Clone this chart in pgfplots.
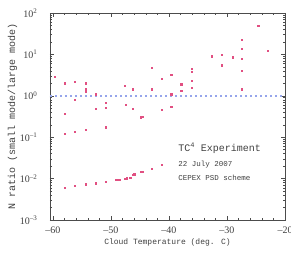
\documentclass[border=0pt]{standalone}
\usepackage{pgfplots}
\pgfplotsset{compat=1.18}
\usepackage{fontspec}
\setmainfont{Liberation Mono}
\newfontfamily\tickfont{Liberation Serif}
\definecolor{pts}{RGB}{225,80,130}
\definecolor{refl}{RGB}{150,165,235}
\begin{document}
\begin{tikzpicture}
\begin{axis}[
  scale only axis,
  width=235pt, height=207pt,
  xmin=-60.5, xmax=-20,
  ymode=log, ymin=1e-3, ymax=1e2,
  xtick={-60,-50,-40,-30,-20},
  xticklabels={\textendash60,\textendash50,\textendash40,\textendash30,\textendash20},
  minor x tick num=4,
  ytick={1e-3,1e-2,1e-1,1,1e1,1e2},
  yticklabels={10\textsuperscript{\textendash3},10\textsuperscript{\textendash2},10\textsuperscript{\textendash1},10\textsuperscript{0},10\textsuperscript{1},10\textsuperscript{2}},
  tick align=inside,
  ticklabel style={font=\tickfont\fontsize{10}{11}\selectfont, text=black!75},
  yticklabel style={xshift=-9pt},
  xticklabel style={yshift=-3pt},
  xlabel={Cloud Temperature (deg. C)},
  ylabel={N ratio (small mode/large mode)},
  xlabel style={font=\fontsize{8}{9}\selectfont, text=black!75, yshift=1pt},
  ylabel style={font=\fontsize{10}{11}\selectfont, text=black!75, yshift=-4pt},
  axis line style={black!70, line width=0.6pt},
  major tick length=4pt, minor tick length=2pt,
  every tick/.style={black!70},
  clip=false,
]
\addplot[refl, line width=1.6pt, dash pattern=on 2pt off 3pt] coordinates {(-60.5,1) (-20,1)};
\addplot[only marks, mark=square*, mark size=0.65pt, color=pts] coordinates {
(-59.7,2.9)
(-58,2.0) (-58,0.37) (-58,0.12) (-58,0.006)
(-56.2,2.2) (-56.2,0.8) (-56.2,0.137) (-56.2,0.0067)
(-54.3,2.1) (-54.3,1.95) (-54.3,1.45) (-54.3,1.3) (-54.3,0.15) (-54.3,0.0073)
(-52.6,1.1) (-52.6,0.48) (-52.6,0.0077)
(-50.9,0.69) (-50.9,0.52) (-50.9,0.175) (-50.9,0.0085)
(-49.1,0.0093) (-48.6,0.0093)
(-47.6,1.75) (-47.4,0.6) (-47.6,0.01) (-47.3,0.0102) (-46.7,0.0107)
(-46.2,1.45) (-46.2,0.49) (-46.2,0.0123) (-46.0,0.0127)
(-44.9,0.305) (-44.6,0.31) (-44.9,0.0148) (-44.5,0.0148)
(-43.0,4.7) (-43.0,1.45) (-43.0,0.0175)
(-41.3,2.6) (-41.3,0.46) (-41.3,0.0218)
(-39.6,3.2) (-39.6,1.1) (-39.6,0.55)
(-37.9,1.9) (-37.9,1.32)
(-36.1,4.6) (-36.1,3.8) (-36.1,2.3) (-36.1,1.56)
(-32.6,9.0)
(-30.9,9.8) (-30.9,5.5)
(-29.0,8.6)
(-27.5,22.7) (-27.5,13.7) (-27.5,7.9) (-27.5,4.1) (-27.5,1.45)
(-24.6,49)
(-23.0,12.5)
};
\node[anchor=west, font=\fontsize{10}{11}\selectfont, text=black!75] at (axis cs:-39,0.055) {TC\textsuperscript{4} Experiment};
\node[anchor=west, font=\fontsize{7.5}{8}\selectfont, text=black!75] at (axis cs:-39,0.022) {22 July 2007};
\node[anchor=west, font=\fontsize{7.5}{8}\selectfont, text=black!75] at (axis cs:-39,0.0102) {CEPEX PSD scheme};
\end{axis}
\pgfresetboundingbox
\path[use as bounding box] ([shift={(-50pt,-39pt)}]current axis.south west) rectangle ([shift={(6pt,13pt)}]current axis.north east);
\end{tikzpicture}
\end{document}
